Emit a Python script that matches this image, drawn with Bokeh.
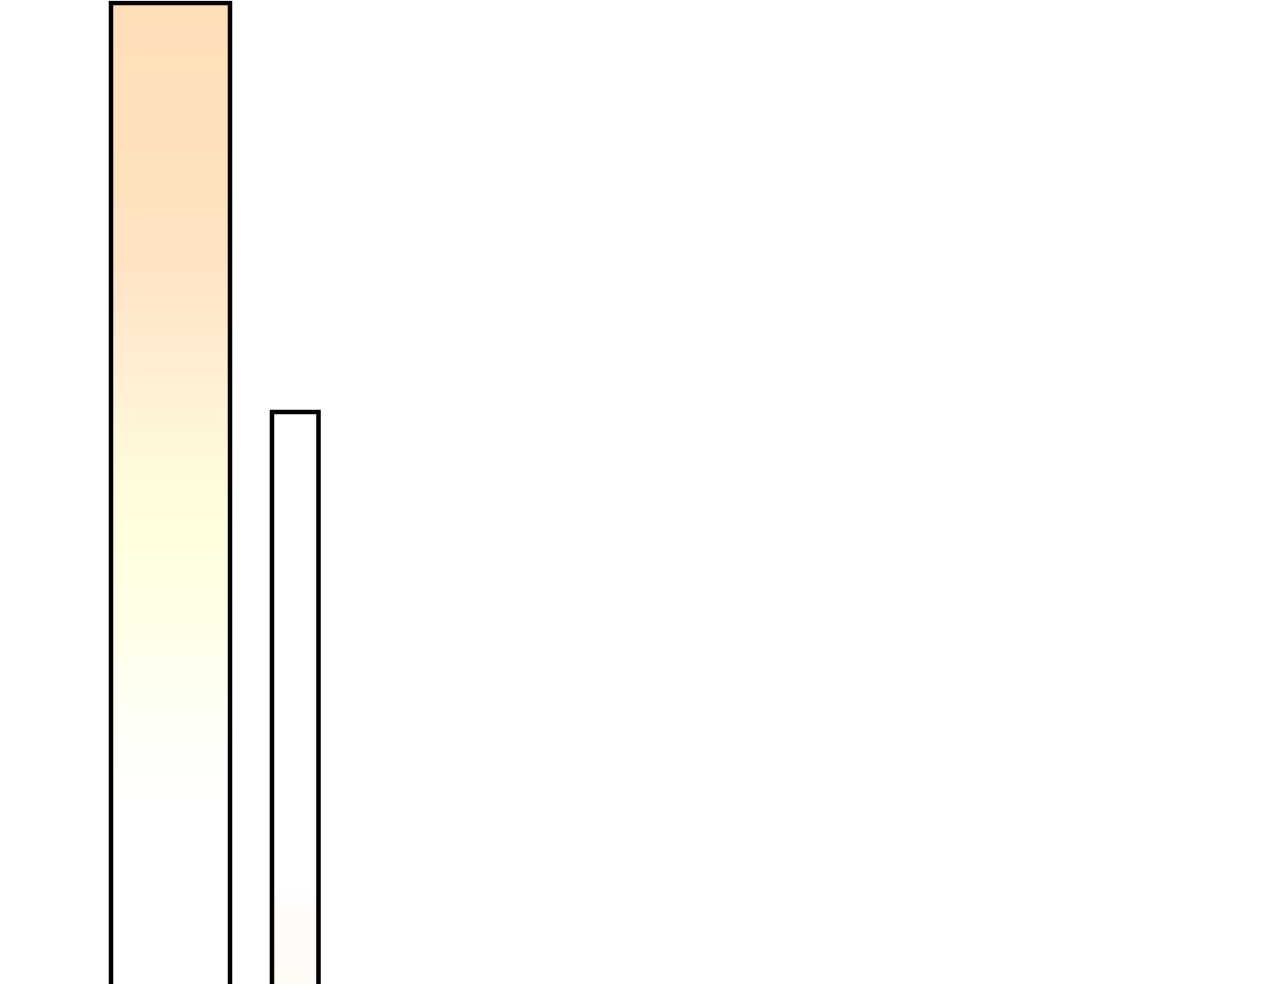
import numpy as np
from bokeh.plotting import figure
from bokeh.models import Range1d
from bokeh.embed import file_html
from bokeh.resources import INLINE

# ---- data ----
categories = ["A", "B"]
x_pos = [1.0, 2.0]
values = [100.0, 62.3]
bar_widths = [0.954, 0.373]

# ---- view ----
Y0, Y1 = 9.53, 100.23
X0, X1 = -0.3627, 9.7696

# gradient stops per bar: (fraction of view from top, colour)
grad_stops = [
    [(0.00, "#FFDFB8"), (0.20, "#FFE1BC"), (0.30, "#FFE6C8"), (0.42, "#FFF3D5"),
     (0.50, "#FFFCDD"), (0.56, "#FFFFE0"), (0.65, "#FFFFEA"), (0.75, "#FFFFF8"),
     (0.85, "#FFFFFF"), (1.00, "#FFFFFF")],
    [(0.00, "#FFFFFF"), (0.90, "#FFFFFF"), (0.93, "#FFFCF8"), (1.00, "#FFFBF5")],
]


def hex2rgb(h):
    h = h.lstrip("#")
    return np.array([int(h[i:i + 2], 16) for i in (0, 2, 4)], dtype=float)


def ramp(stops, f):
    fs = np.array([s[0] for s in stops])
    cs = np.array([hex2rgb(s[1]) for s in stops])
    rgb = [np.interp(f, fs, cs[:, k]) for k in range(3)]
    return "#%02x%02x%02x" % tuple(int(round(c)) for c in rgb)


p = figure(width=1264, height=984, output_backend="svg", toolbar_location=None,
           x_range=Range1d(X0, X1), y_range=Range1d(Y0, Y1),
           x_axis_location=None, y_axis_location=None, min_border=0)
p.grid.visible = False
p.outline_line_color = None
p.background_fill_color = "white"
p.border_fill_color = "white"

# gradient fill built from thin slices of each bar
N = 160
for i, (xc, v, w) in enumerate(zip(x_pos, values, bar_widths)):
    edges = np.linspace(v, Y0 - 0.5, N + 1)
    tops, bots, cols = [], [], []
    for k in range(N):
        t, b = edges[k], edges[k + 1]
        mid = 0.5 * (t + b)
        f = (Y1 - mid) / (Y1 - Y0)
        tops.append(min(v, t + (t - b) * 0.5))
        bots.append(b)
        cols.append(ramp(grad_stops[i], f))
    p.quad(left=xc - w / 2, right=xc + w / 2, top=tops, bottom=bots,
           fill_color=cols, line_color=None)

# outlines: left, top and right sides (bars continue below the view)
xs, ys = [], []
for xc, v, w in zip(x_pos, values, bar_widths):
    xs.append([xc - w / 2, xc - w / 2, xc + w / 2, xc + w / 2])
    ys.append([0, v, v, 0])
p.multi_line(xs=xs, ys=ys, line_color="black", line_width=4.5, line_join="miter")

open("out.html", "w").write(file_html(p, INLINE))
